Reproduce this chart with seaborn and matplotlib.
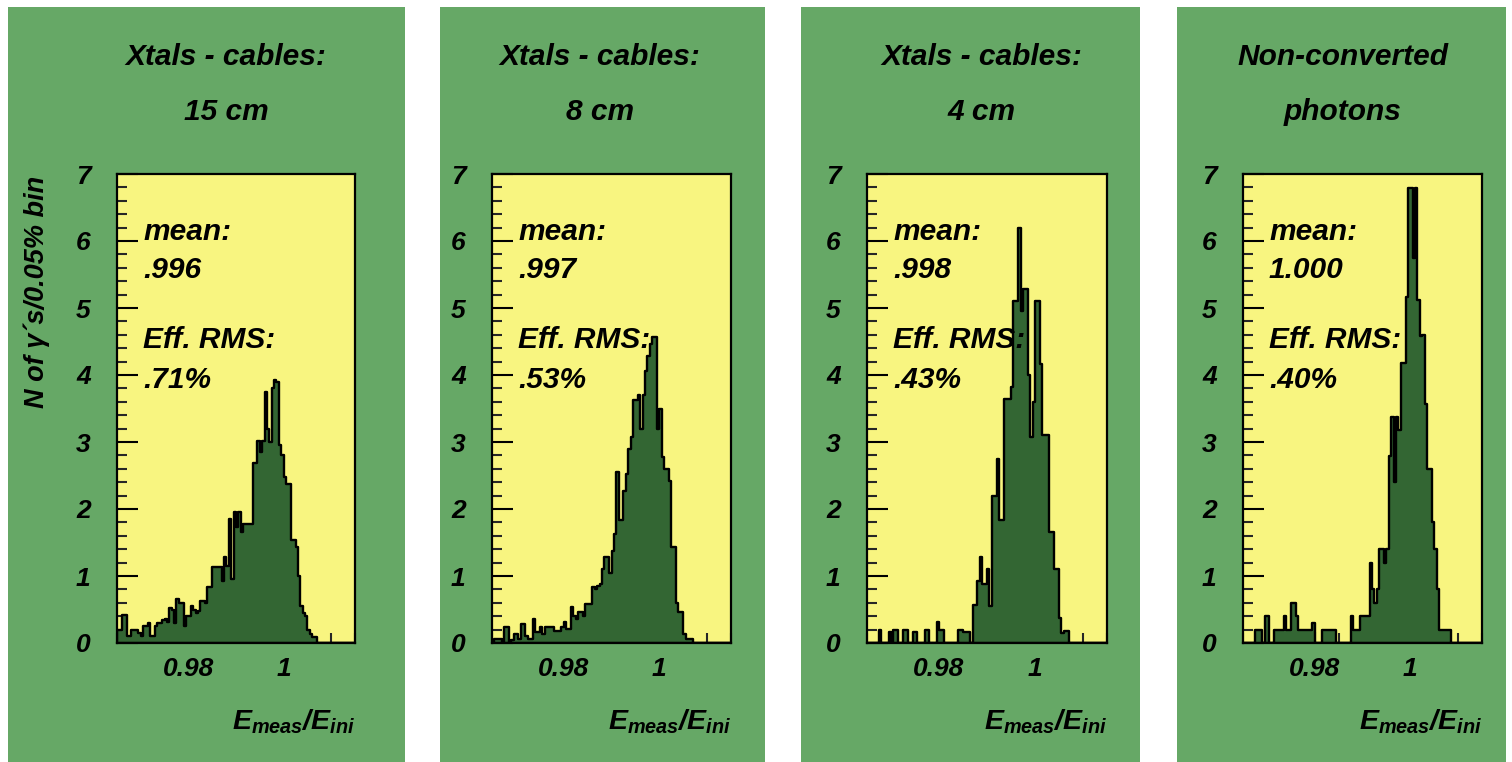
import numpy as np
import pandas as pd
import matplotlib
matplotlib.use("Agg")
import matplotlib.pyplot as plt
import seaborn as sns
from matplotlib.patches import Rectangle
from matplotlib.ticker import MultipleLocator

sns.set_theme(style="white")
plt.rcParams['font.family'] = ['Liberation Sans', 'DejaVu Sans']
plt.rcParams['mathtext.fontset'] = 'custom'
plt.rcParams['mathtext.it'] = 'Liberation Sans:italic:bold'
plt.rcParams['mathtext.rm'] = 'Liberation Sans:italic:bold'
plt.rcParams['mathtext.bf'] = 'Liberation Sans:italic:bold'

# ---------------- data ----------------
BIN_LO = 0.965
BIN_W = 0.0005
N_BINS = 100

title_line1 = ["Xtals - cables:", "Xtals - cables:", "Xtals - cables:", "Non-converted"]
title_line2 = ["15 cm", "8 cm", "4 cm", "photons"]
mean_vals = [".996", ".997", ".998", "1.000"]
rms_vals = [".71%", ".53%", ".43%", ".40%"]

counts_15cm = [
    0.2, 0.2, 0.42, 0.42, 0.1, 0.1, 0.2, 0.2, 0.2, 0.15,
    0.1, 0.25, 0.25, 0.3, 0.1, 0.1, 0.25, 0.3, 0.3, 0.35,
    0.36, 0.32, 0.52, 0.5, 0.3, 0.65, 0.6, 0.6, 0.25, 0.4,
    0.4, 0.55, 0.5, 0.45, 0.48, 0.62, 0.62, 0.6, 0.84, 0.84,
    1.13, 1.13, 1.13, 1.13, 0.93, 1.28, 1.15, 1.85, 0.95, 1.95,
    1.73, 1.95, 1.65, 1.78, 1.78, 1.78, 1.77, 2.68, 2.68, 3.02,
    2.85, 3.02, 3.75, 3.2, 3.0, 3.8, 3.92, 3.9, 2.95, 2.8,
    2.48, 2.38, 2.38, 1.53, 1.53, 1.43, 1.0, 0.55, 0.45, 0.41,
    0.19, 0.14, 0.09, 0.09, 0, 0, 0, 0, 0, 0,
    0, 0, 0, 0, 0, 0, 0, 0, 0, 0,
]
counts_8cm = [
    0.0, 0.06, 0.06, 0.06, 0.0, 0.24, 0.24, 0.0, 0.05, 0.13,
    0.13, 0.06, 0.29, 0.29, 0.1, 0.06, 0.06, 0.36, 0.16, 0.16,
    0.24, 0.13, 0.24, 0.24, 0.24, 0.24, 0.18, 0.18, 0.18, 0.24,
    0.31, 0.21, 0.21, 0.53, 0.4, 0.36, 0.46, 0.46, 0.4, 0.58,
    0.58, 0.58, 0.83, 0.8, 0.85, 0.88, 1.1, 1.28, 1.28, 1.05,
    1.38, 1.63, 2.55, 1.83, 1.83, 2.27, 2.52, 2.9, 3.07, 3.62,
    3.62, 3.7, 3.2, 3.7, 4.06, 4.29, 4.46, 4.56, 4.56, 3.2,
    3.49, 2.77, 2.6, 2.6, 2.42, 1.43, 1.43, 0.6, 0.46, 0.46,
    0.13, 0.06, 0.06, 0.06, 0, 0, 0, 0, 0, 0,
    0, 0, 0, 0, 0, 0, 0, 0, 0, 0,
]
counts_4cm = [
    0, 0, 0, 0, 0, 0.2, 0, 0, 0, 0.16,
    0, 0.2, 0.2, 0, 0, 0.2, 0.2, 0, 0, 0.16,
    0.16, 0, 0, 0, 0.2, 0.2, 0, 0, 0, 0.32,
    0.2, 0.2, 0, 0, 0, 0, 0, 0, 0.2, 0.2,
    0.17, 0.17, 0.17, 0, 0.56, 0.56, 0.93, 1.28, 0.88, 0.88,
    1.1, 0.55, 2.2, 2.2, 2.75, 1.83, 1.83, 3.64, 3.64, 3.64,
    3.82, 5.1, 5.1, 6.2, 4.96, 5.28, 5.28, 4.0, 3.07, 3.6,
    5.1, 5.1, 4.16, 3.1, 3.1, 3.1, 1.65, 1.65, 1.1, 1.1,
    0.38, 0.15, 0.18, 0.18, 0, 0, 0, 0, 0, 0,
    0, 0, 0, 0, 0, 0, 0, 0, 0, 0,
]
counts_unconv = [
    0, 0, 0, 0, 0, 0.2, 0.2, 0.2, 0, 0.4,
    0.4, 0, 0, 0.2, 0.2, 0.2, 0.2, 0.4, 0.2, 0.2,
    0.6, 0.6, 0.4, 0.2, 0.2, 0.2, 0.2, 0.2, 0.2, 0.3,
    0, 0, 0, 0.2, 0.2, 0.2, 0.2, 0.2, 0.2, 0,
    0, 0, 0, 0, 0, 0.4, 0.2, 0.2, 0.2, 0.4,
    0.4, 0.4, 0.4, 1.2, 0.8, 0.6, 0.8, 1.4, 1.4, 1.2,
    1.4, 2.79, 3.38, 2.4, 3.38, 3.18, 4.18, 4.18, 5.17, 6.79,
    6.79, 5.75, 6.79, 5.12, 4.58, 4.6, 3.56, 2.59, 2.59, 1.8,
    1.4, 0.8, 0.2, 0.2, 0.2, 0.2, 0.2, 0, 0, 0,
    0, 0, 0, 0, 0, 0, 0, 0, 0, 0,
]
all_counts = [counts_15cm, counts_8cm, counts_4cm, counts_unconv]

y_label = "N of \u03b3\u00b4s/0.05% bin"
x_ticks = [0.98, 1.0]
x_tick_labels = ["0.98", "1"]
y_ticks = [0, 1, 2, 3, 4, 5, 6, 7]

# ---------------- layout (pixels) ----------------
W, H = 1512, 762
PAD_GREEN = "#66a866"
AX_YELLOW = "#f8f580"
FILL_GREEN = "#336633"

pads = [(8, 405), (440, 765), (801, 1140), (1177, 1506)]
axes_x = [(117, 355), (492, 731), (867, 1107), (1243, 1482)]
ax_top, ax_bot = 174, 643
title_cx = [226, 600, 982, 1343]

def fx(p):
    return p / W

def fy(p):
    return 1 - p / H

fig = plt.figure(figsize=(W / 100, H / 100), dpi=100, facecolor="white")

for (x0, x1) in pads:
    fig.add_artist(Rectangle((fx(x0), fy(762)), fx(x1) - fx(x0), fy(7) - fy(762),
                             transform=fig.transFigure, facecolor=PAD_GREEN,
                             edgecolor="none", zorder=0))

edges = [BIN_LO + BIN_W * k for k in range(N_BINS + 1)]
centers = [BIN_LO + BIN_W * (k + 0.5) for k in range(N_BINS)]

tfont = dict(fontsize=21.5, fontweight="bold", fontstyle="italic", color="black")

for i in range(4):
    x0, x1 = axes_x[i]
    ax = fig.add_axes([fx(x0), fy(ax_bot), fx(x1) - fx(x0), fy(ax_top) - fy(ax_bot)])
    ax.set_facecolor(AX_YELLOW)
    df = pd.DataFrame({"x": centers, "w": [float(v) for v in all_counts[i]]})
    sns.histplot(data=df, x="x", weights="w", bins=edges,
                 element="step", fill=True, facecolor=FILL_GREEN, edgecolor="black",
                 linewidth=1.7, alpha=1, ax=ax)
    ax.set_xlim(BIN_LO, BIN_LO + BIN_W * N_BINS)
    ax.set_ylim(0, 7)
    ax.set_xlabel("")
    ax.set_ylabel("")
    ax.set_xticks(x_ticks)
    ax.set_xticklabels(x_tick_labels, fontsize=19, fontweight="bold", fontstyle="italic")
    ax.set_yticks(y_ticks)
    ax.set_yticklabels([str(v) for v in y_ticks], fontsize=19, fontweight="bold",
                       fontstyle="italic")
    ax.xaxis.set_minor_locator(MultipleLocator(0.005))
    ax.yaxis.set_minor_locator(MultipleLocator(0.2))
    ax.tick_params(axis="y", which="major", direction="in", length=15, width=1.5,
                   pad=19, left=True, right=False, colors="black")
    ax.tick_params(axis="y", which="minor", direction="in", length=7, width=1.5,
                   left=True, right=False)
    ax.tick_params(axis="x", which="major", direction="in", length=8, width=1.5,
                   pad=10, bottom=True, top=False, colors="black")
    ax.tick_params(axis="x", which="minor", direction="in", length=7, width=1.5,
                   bottom=True, top=False)
    for s in ax.spines.values():
        s.set_visible(True)
        s.set_color("black")
        s.set_linewidth(1.6)

    # titles
    fig.text(fx(title_cx[i]), fy(57), title_line1[i], ha="center", va="center", **tfont)
    fig.text(fx(title_cx[i]), fy(112), title_line2[i], ha="center", va="center", **tfont)
    # stats
    sx = fx(x0 + 26)
    fig.text(sx, fy(232), "mean:", ha="left", va="center", **tfont)
    fig.text(sx, fy(270), mean_vals[i], ha="left", va="center", **tfont)
    fig.text(sx, fy(340), "Eff. RMS:", ha="left", va="center", **tfont)
    fig.text(sx, fy(380), rms_vals[i], ha="left", va="center", **tfont)
    # x label
    fig.text(fx(x1), fy(722), r"$E_{meas}/E_{ini}$", ha="right", va="center",
             fontsize=20.5, color="black")

fig.text(fx(37), fy(292), y_label, rotation=90, ha="center", va="center",
         fontsize=19.5, fontweight="bold", fontstyle="italic", color="black")

fig.savefig("out.png", dpi=100, facecolor="white")
